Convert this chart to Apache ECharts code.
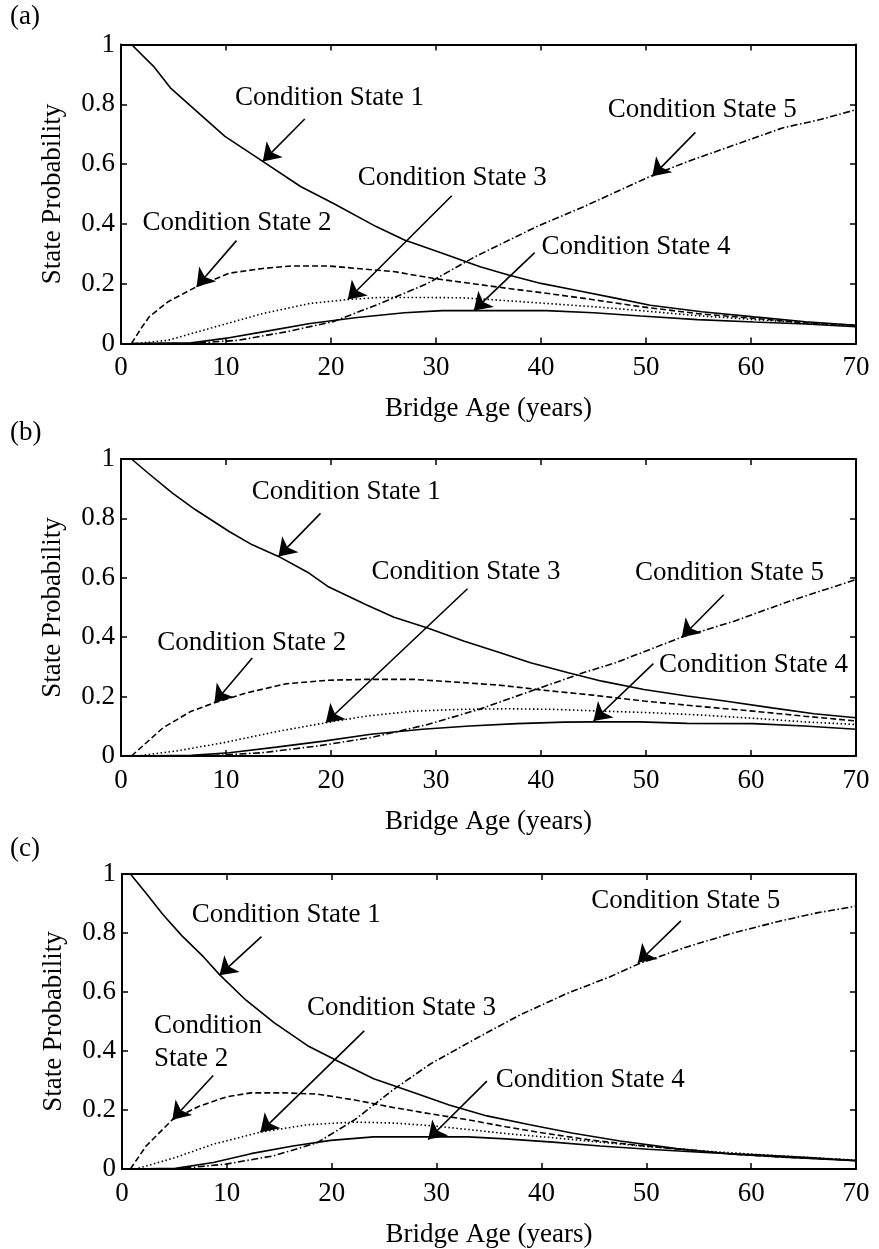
<!DOCTYPE html>
<html>
<head>
<meta charset="utf-8">
<script src="https://cdn.jsdelivr.net/npm/echarts@6/dist/echarts.min.js"></script>
<style>
html,body{margin:0;padding:0;background:#fff;}
#chart{width:879px;height:1249px;}
</style>
</head>
<body>
<div id="chart"></div>
<script>
// ---------- axis definitions ----------
const X_MIN = 0, X_MAX = 70, X_STEP = 10;
const Y_MIN = 0, Y_MAX = 1, Y_STEP = 0.2;
const panelLabels = ['(a)', '(b)', '(c)'];
const stateNames = ['Condition State 1', 'Condition State 2', 'Condition State 3', 'Condition State 4', 'Condition State 5'];

// ---------- panel (a) data [age, probability] ----------
const a_cs1 = [[1,1.0],[3.1,0.927],[4.7,0.855],[8.1,0.749],[9.9,0.693],[13.5,0.609],[17.1,0.525],[20.2,0.469],[24.3,0.391],[27,0.346],[30.6,0.302],[34.2,0.257],[36.9,0.229],[40,0.201],[43.2,0.179],[47.2,0.151],[50.4,0.128],[55.3,0.106],[60.3,0.089],[65.2,0.073],[70,0.061]];
const a_cs2 = [[1,0],[2,0.055],[2.7,0.09],[4.5,0.14],[7.2,0.19],[10.3,0.235],[13.5,0.251],[16.2,0.259],[19.8,0.259],[22.5,0.251],[26.1,0.24],[29.7,0.218],[33.3,0.201],[36.9,0.184],[40.5,0.168],[44.1,0.151],[49.5,0.123],[54.9,0.1],[60.3,0.084],[65.2,0.069],[70,0.061]];
const a_cs3 = [[1.5,0],[4.5,0.011],[9,0.056],[13.5,0.1],[18,0.134],[21.6,0.147],[24.7,0.154],[27.9,0.154],[32.4,0.153],[36,0.145],[40.5,0.134],[45,0.123],[49.5,0.11],[54.9,0.093],[60.3,0.08],[65.2,0.069],[70,0.059]];
const a_cs4 = [[1,0],[6.7,0.002],[9.9,0.017],[13.5,0.039],[18,0.067],[22.5,0.087],[27,0.103],[30.6,0.11],[33.7,0.11],[40.5,0.11],[45,0.103],[49.5,0.092],[54.9,0.08],[60.3,0.072],[65.2,0.065],[70,0.056]];
const a_cs5 = [[1,0],[6.7,0],[11.2,0.011],[15.7,0.039],[20.2,0.073],[24.7,0.134],[29.2,0.201],[33.7,0.29],[39.6,0.391],[44.1,0.458],[50.4,0.559],[54,0.609],[58.5,0.665],[63,0.721],[66.6,0.749],[70,0.782]];

// ---------- panel (b) data ----------
const b_cs1 = [[1,1.0],[2.6,0.952],[4.9,0.885],[7.1,0.829],[10.3,0.756],[12.5,0.711],[15,0.672],[17.9,0.616],[19.7,0.571],[23.3,0.51],[26,0.467],[29.2,0.431],[32.7,0.386],[35.9,0.35],[39,0.314],[42.6,0.28],[45.8,0.252],[49.8,0.224],[53.9,0.202],[57.5,0.185],[62,0.162],[66,0.142],[70,0.129]];
const b_cs2 = [[1,0],[4,0.095],[6.7,0.151],[8.9,0.179],[12,0.213],[15.7,0.243],[19.7,0.255],[23.3,0.258],[27.8,0.258],[31.4,0.25],[35.9,0.239],[40.4,0.221],[44.9,0.205],[49.8,0.185],[54.8,0.168],[60.2,0.151],[65.1,0.134],[70,0.118]];
const b_cs3 = [[1.5,0],[5.3,0.017],[9.8,0.045],[14.8,0.082],[19.5,0.112],[23.3,0.134],[27.8,0.151],[32.3,0.157],[36.8,0.159],[41.3,0.157],[45.8,0.151],[50.3,0.146],[55.2,0.138],[60.2,0.127],[65.1,0.115],[70,0.106]];
const b_cs4 = [[1,0],[6.7,0.002],[10.3,0.011],[14.8,0.03],[19.3,0.05],[23.8,0.073],[28.7,0.09],[33.2,0.101],[37.7,0.109],[42.2,0.114],[44.9,0.115],[49.4,0.115],[53.9,0.11],[60.2,0.109],[65.1,0.101],[70,0.09]];
const b_cs5 = [[1,0],[8,0],[13.4,0.011],[18.8,0.034],[23.8,0.062],[29.2,0.106],[34.1,0.157],[39,0.218],[44,0.28],[47.1,0.314],[53.4,0.4],[58.4,0.454],[63.8,0.523],[70,0.594]];

// ---------- panel (c) data ----------
const c_cs1 = [[0.8,1.0],[2.3,0.935],[3.9,0.863],[5.7,0.791],[7.8,0.718],[9.3,0.659],[11.8,0.573],[14.5,0.496],[17.7,0.418],[20.8,0.362],[24,0.306],[27.6,0.262],[31.2,0.217],[34.8,0.18],[38.9,0.15],[42.9,0.122],[47.5,0.095],[52.9,0.069],[58.3,0.05],[63.7,0.039],[70,0.028]];
const c_cs2 = [[0.8,0],[2.3,0.078],[4.8,0.167],[7.3,0.212],[10,0.245],[12.3,0.258],[15.4,0.258],[18.6,0.254],[22.2,0.234],[25.8,0.209],[29.4,0.187],[33,0.167],[36.6,0.143],[40.2,0.122],[44.7,0.098],[49.3,0.08],[53.8,0.065],[58.3,0.05],[63.7,0.039],[70,0.03]];
const c_cs3 = [[1.2,0],[1.9,0.006],[5.1,0.039],[8.7,0.084],[13.2,0.125],[17.7,0.15],[22.2,0.159],[25.8,0.156],[29.4,0.147],[33,0.134],[36.6,0.12],[41.1,0.106],[45.6,0.091],[50.2,0.076],[55.6,0.061],[61,0.048],[65.5,0.039],[70,0.03]];
const c_cs4 = [[0.8,0],[5.1,0.002],[8.7,0.022],[12.3,0.052],[16.3,0.078],[19.9,0.097],[24,0.109],[29.2,0.109],[33,0.109],[36.6,0.102],[41.1,0.091],[45.6,0.078],[50.2,0.067],[55.6,0.056],[61,0.047],[65.5,0.039],[70,0.028]];
const c_cs5 = [[0.8,0],[5.1,0],[10,0.017],[14.5,0.045],[18.6,0.089],[22.2,0.167],[25.8,0.267],[29.4,0.356],[33.9,0.445],[38,0.523],[42.5,0.596],[46.5,0.651],[49.3,0.696],[53.8,0.752],[58.3,0.8],[62.8,0.841],[66.4,0.869],[70,0.891]];

// ---------- annotation texts (left x, middle y in data units) and arrows ----------
const a_text = [[10.8,0.821,'Condition State 1'],[2.0,0.402,'Condition State 2'],[22.5,0.553,'Condition State 3'],[40.0,0.322,'Condition State 4'],[46.3,0.782,'Condition State 5']];
const a_arrows = [[[17.5,0.751],[13.5,0.609]],[[11,0.344],[7.2,0.19]],[[31.5,0.494],[21.6,0.147]],[[39.4,0.304],[33.6,0.11]],[[54.7,0.706],[50.6,0.559]]];
const b_text = [[12.4,0.89,'Condition State 1'],[3.4,0.381,'Condition State 2'],[23.8,0.621,'Condition State 3'],[51.2,0.308,'Condition State 4'],[48.9,0.616,'Condition State 5']];
const b_arrows = [[[19,0.817],[15,0.672]],[[12.5,0.33],[8.9,0.179]],[[33,0.563],[19.5,0.112]],[[50.7,0.311],[45,0.118]],[[57.4,0.543],[53.4,0.40]]];
const c_text = [[6.6,0.863,'Condition State 1'],[3.0,0.4285,'Condition\nState 2'],[17.6,0.546,'Condition State 3'],[35.6,0.301,'Condition State 4'],[44.7,0.908,'Condition State 5']];
const c_arrows = [[[13.3,0.788],[9.3,0.657]],[[8.7,0.317],[4.8,0.167]],[[23.1,0.468],[13.2,0.125]],[[34.8,0.298],[29.2,0.10]],[[53.3,0.841],[49.2,0.699]]];

const panels = [
  {curves:[a_cs1,a_cs2,a_cs3,a_cs4,a_cs5], text:a_text, arrows:a_arrows},
  {curves:[b_cs1,b_cs2,b_cs3,b_cs4,b_cs5], text:b_text, arrows:b_arrows},
  {curves:[c_cs1,c_cs2,c_cs3,c_cs4,c_cs5], text:c_text, arrows:c_arrows}
];

// ---------- layout / style ----------
const FONT = '"Liberation Serif", "Times New Roman", serif';
const FS = 27;
const gridBoxes = [
  {left:121, right:23, top:44.5, height:299},
  {left:121, right:23, top:459, height:297},
  {left:122, right:23, top:874, height:300}
];
const panelLabelY = [17, 433, 849];
const lineTypes = ['solid', [6,3], [1.5,2.5], 'solid', [7,2.5,1.5,2.5]];

const grid = [], xAxis = [], yAxis = [], series = [], graphic = [];

gridBoxes.forEach(function(g, i){
  grid.push(Object.assign({containLabel:false}, g));
  const axLine = {show:true, onZero:false, lineStyle:{color:'#000', width:2}};
  const tick = {show:true, inside:true, length:6, lineStyle:{color:'#000', width:1.5}};
  xAxis.push({type:'value', gridIndex:i, position:'bottom', min:X_MIN, max:X_MAX, interval:X_STEP,
    axisLine:axLine, axisTick:tick, splitLine:{show:false},
    axisLabel:{show:true, color:'#000', fontFamily:FONT, fontSize:FS, margin:11},
    name:'Bridge Age (years)', nameLocation:'middle', nameGap:52,
    nameTextStyle:{color:'#000', fontFamily:FONT, fontSize:FS}});
  xAxis.push({type:'value', gridIndex:i, position:'top', min:X_MIN, max:X_MAX, interval:X_STEP,
    axisLine:axLine, axisTick:tick, splitLine:{show:false}, axisLabel:{show:false}});
  yAxis.push({type:'value', gridIndex:i, position:'left', min:Y_MIN, max:Y_MAX, interval:Y_STEP,
    axisLine:axLine, axisTick:tick, splitLine:{show:false},
    axisLabel:{show:true, color:'#000', fontFamily:FONT, fontSize:FS, margin:6},
    name:'State Probability', nameLocation:'middle', nameGap:55,
    nameTextStyle:{color:'#000', fontFamily:FONT, fontSize:FS}});
  yAxis.push({type:'value', gridIndex:i, position:'right', min:Y_MIN, max:Y_MAX, interval:Y_STEP,
    axisLine:axLine, axisTick:tick, splitLine:{show:false}, axisLabel:{show:false}});

  const p = panels[i];
  p.curves.forEach(function(d, k){
    series.push({type:'line', name:stateNames[k], xAxisIndex:2*i, yAxisIndex:2*i, data:d,
      showSymbol:false, symbol:'none', smooth:false, silent:true,
      lineStyle:{color:'#000', width:1.6, type:lineTypes[k]}});
  });
  series.push({type:'lines', coordinateSystem:'cartesian2d', xAxisIndex:2*i, yAxisIndex:2*i,
    silent:true, symbol:['none','arrow'], symbolSize:[0,17],
    lineStyle:{color:'#000', width:1.6, opacity:1, curveness:0},
    data:p.arrows.map(function(a){return {coords:a};})});
  series.push({type:'scatter', xAxisIndex:2*i, yAxisIndex:2*i, silent:true, symbolSize:1,
    itemStyle:{color:'rgba(0,0,0,0)', opacity:1},
    data:p.text.map(function(t){return {value:[t[0],t[1]], name:t[2]};}),
    label:{show:true, position:'right', distance:0, formatter:'{b}', color:'#000', opacity:1,
      fontFamily:FONT, fontSize:FS, lineHeight:33, align:'left', verticalAlign:'middle'}});

  graphic.push({type:'text', x:10, y:panelLabelY[i],
    style:{text:panelLabels[i], font:FS + 'px ' + FONT, fill:'#000', verticalAlign:'middle', align:'left'}});
});

const chart = echarts.init(document.getElementById('chart'), null, {renderer:'canvas'});
chart.setOption({
  animation:false,
  backgroundColor:'#fff',
  grid:grid, xAxis:xAxis, yAxis:yAxis, series:series, graphic:graphic
});
</script>
</body>
</html>
